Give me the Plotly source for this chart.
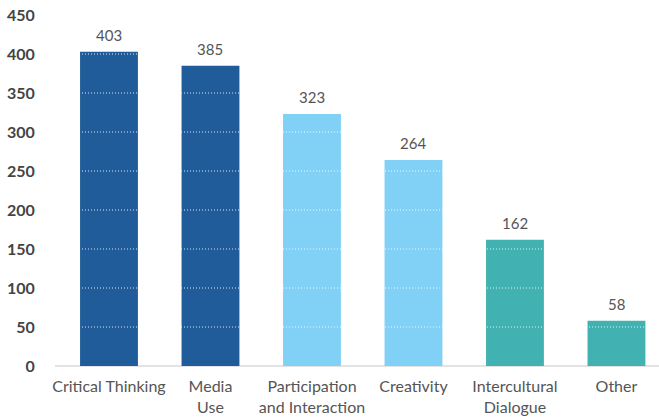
import plotly.graph_objects as go

# Survey counts by competence area
categories = ["Critical Thinking", "Media<br>Use", "Participation<br>and Interaction",
              "Creativity", "Intercultural<br>Dialogue", "Other"]
values = [403, 385, 323, 264, 162, 58]
bar_colors = ["#1F5C99", "#1F5C99", "#81D0F5", "#81D0F5", "#41B1B1", "#41B1B1"]
y_ticks = [0, 50, 100, 150, 200, 250, 300, 350, 400, 450]

fig = go.Figure()
fig.add_trace(go.Bar(
    x=list(range(len(categories))),
    y=values,
    marker=dict(color=bar_colors, line=dict(width=0)),
    width=0.57,
    hoverinfo="skip",
))

# White dotted gridlines drawn over the bars
for t in y_ticks[1:-1]:
    fig.add_shape(type="line", xref="paper", yref="y", x0=0, x1=1, y0=t, y1=t,
                  line=dict(color="rgba(255,255,255,0.85)", width=1, dash="1px,2px"),
                  layer="above")

# Value labels above each bar
for i, v in enumerate(values):
    fig.add_annotation(x=i, y=v, text=str(v), showarrow=False, yanchor="bottom",
                       yshift=6, font=dict(family="Lato", size=15, color="#555555"))

fig.update_layout(
    width=659, height=417,
    margin=dict(l=55, r=0, t=15, b=51),
    paper_bgcolor="white", plot_bgcolor="white",
    showlegend=False,
    bargap=0.43,
    xaxis=dict(
        range=[-0.532, 5.419],
        tickmode="array",
        tickvals=list(range(len(categories))),
        ticktext=categories,
        tickfont=dict(family="Lato", size=16, color="#555555"),
        ticklabelstandoff=9,
        showgrid=False, zeroline=False,
        showline=False, ticks="",
    ),
    yaxis=dict(
        range=[0, 450],
        tickmode="array",
        tickvals=y_ticks,
        tickfont=dict(family="Lato", size=16, color="#444444", weight="bold"),
        showgrid=False,
        zeroline=True, zerolinecolor="#E3E3E3", zerolinewidth=2,
        showline=False, ticks="outside", ticklen=16, tickcolor="rgba(0,0,0,0)",
    ),
)

fig.write_html("out.html")
